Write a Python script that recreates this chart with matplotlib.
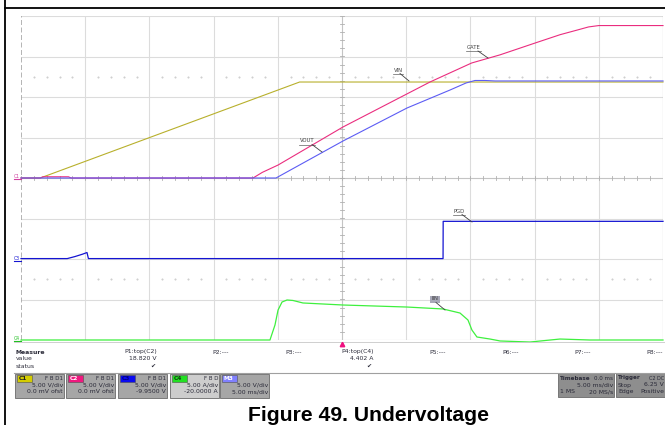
"""
Scope capture: undervoltage start-up (VIN, GATE, VOUT, PGD, IIN)
"""
import matplotlib.pyplot as plt
from matplotlib.patches import Rectangle
import numpy as np

W, H = 665, 425

# ---- traces (time in ms, trigger at 0) ----
vin_t = [-25.0, -23.5, -3.3, 25.0]
vin_v = [0.0, 0.0, 11.85, 11.85]

gate_t = [-25.0, -23.5, -23.3, -21.3, -21.1, -6.93, -6.2, -4.98, 0.08, 6.85,
          10.1, 12.3, 15.2, 17.0, 18.4, 19.2, 20.0, 25.0]
gate_v = [0.0, 0.0, 0.15, 0.15, 0.0, 0.0, 0.7, 1.6, 6.3, 11.85,
          14.2, 15.2, 16.75, 17.7, 18.3, 18.65, 18.82, 18.82]

vout_t = [-25.0, -5.14, 0.08, 5.06, 8.41, 9.66, 10.36, 11.14, 11.92, 25.0]
vout_v = [0.0, 0.0, 4.57, 8.64, 10.86, 11.73, 12.04, 12.04, 11.98, 11.98]

pgd_t = [-25.0, -21.4, -20.8, -20.2, -19.86, -19.75, 7.87, 7.88, 25.0]
pgd_v = [0.0, 0.0, 0.25, 0.55, 0.75, 0.0, 0.0, 4.6, 4.6]

iin_t = [-25.0, -5.61, -5.22, -4.98, -4.67, -4.28, -3.82, -3.04, 0.08, 5.06,
         7.87, 9.19, 9.81, 10.12, 10.51, 11.53, 12.31, 14.64, 16.98, 19.3, 25.0]
iin_a = [0.0, 0.0, 1.85, 3.70, 4.69, 4.94, 4.88, 4.57, 4.32, 4.07,
         3.83, 3.33, 2.47, 1.23, 0.37, 0.12, -0.12, -0.25, 0.12, 0.0, 0.0]

# channel setup (scale per div, offset)
c1_scale, c1_ofs = 5.0, 0.0
c2_scale, c2_ofs = 5.0, 0.0
c3_scale, c3_ofs = 5.0, -9.95
c4_scale, c4_ofs = 5.0, -20.0
m3_scale = 5.0

# bottom panel texts
p_names = ['P1:top(C2)', 'P2:---', 'P3:---', 'P4:top(C4)', 'P5:---', 'P6:---', 'P7:---', 'P8:---']
p_values = ['18.820 V', '', '', '4.402 A', '', '', '', '']
p_status = ['\u2714', '', '', '\u2714', '', '', '', '']

ch_names = ['C1', 'C2', 'C3', 'C4', 'M3']
ch_flags = ['F B D1', 'F B D1', 'F B D1', 'F B D', '']
ch_scale_txt = ['5.00 V/div', '5.00 V/div', '5.00 V/div', '5.00 A/div', '5.00 V/div']
ch_ofs_txt = ['0.0 mV ofst', '0.0 mV ofst', '-9.9500 V', '-20.0000 A', '5.00 ms/div']
ch_tag_col = ['#d4cc00', '#f0187f', '#0a0af0', '#22e022', '#8080ff']
ch_tag_txt = ['#202020', '#ffffff', '#000080', '#104010', '#ffffff']

col_c1 = '#b8b02c'
col_c2 = '#ea2d7f'
col_c3 = '#1414d2'
col_c4 = '#3ef03e'
col_m3 = '#5c5cf4'

fig = plt.figure(figsize=(W / 100, H / 100), dpi=100)

# ---- scope grid ----
gx0, gx1, gy0, gy1 = 21, 663, 16, 340
ax = fig.add_axes([gx0 / W, 1 - gy1 / H, (gx1 - gx0) / W, (gy1 - gy0) / H])
ax.set_xlim(-25, 25)
ax.set_ylim(-4, 4)
ax.axis('off')

grid_c = '#dcdcdc'
for t in range(-20, 25, 5):
    if t != 0:
        ax.axvline(t, color=grid_c, lw=0.8, zorder=1)
for yv in [-3, -2, -1, 1, 2, 3]:
    ax.axhline(yv, color=grid_c, lw=0.8, zorder=1)
ax.axhline(4, color=grid_c, lw=0.8, zorder=1)
ax.axhline(-4, color='#c8c8c8', lw=0.8, zorder=1)
ax.axvline(25, color='#a0a0a0', lw=0.8, zorder=1)
ax.axvline(-25, color='#a8a8a8', lw=1.2, ls=(0, (3, 1.5)), zorder=1)
ax.axvline(0, color='#c4c4c4', lw=0.8, zorder=1)
ax.axhline(0, color='#c4c4c4', lw=0.8, zorder=1)

# minor ticks on the centre cross
for yv in np.arange(-4, 4.01, 0.2):
    ax.plot([-0.18, 0.18], [yv, yv], color='#b0b0b0', lw=0.6, zorder=1)
for t in range(-25, 26):
    ax.plot([t, t], [-0.06, 0.06], color='#b0b0b0', lw=0.6, zorder=1)
dots = [t for t in range(-24, 25) if t % 5 != 0]
for yv in [2.5, -2.5]:
    ax.plot(dots, [yv] * len(dots), ls='none', marker='s', ms=0.5,
            color='#cfcfcf', zorder=1)

# ---- traces ----
ax.plot(vin_t, (np.array(vin_v) + c1_ofs) / c1_scale, color=col_c1, lw=0.8, clip_on=False, zorder=3)
ax.plot(gate_t, (np.array(gate_v) + c2_ofs) / c2_scale, color=col_c2, lw=0.8, clip_on=False, zorder=3)
ax.plot(pgd_t, (np.array(pgd_v) + c3_ofs) / c3_scale, color=col_c3, lw=0.9, clip_on=False, zorder=3)
ax.plot(iin_t, (np.array(iin_a) + c4_ofs) / c4_scale, color=col_c4, lw=0.9, clip_on=False, zorder=3)
ax.plot(vout_t, np.array(vout_v) / m3_scale, color=col_m3, lw=0.8, clip_on=False, zorder=4)

# ---- overlay in pixel coordinates ----
ov = fig.add_axes([0, 0, 1, 1])
ov.set_xlim(0, W)
ov.set_ylim(H, 0)
ov.axis('off')
ov.patch.set_alpha(0)

# page frame
ov.plot([5, 5], [0, H], color='black', lw=1.3)
ov.plot([5, W], [8, 8], color='black', lw=1.3)

# trace labels with leader lines
def trace_label(text, x0, x1, yc, lx, ly, boxed=False):
    if boxed:
        ov.add_patch(Rectangle((x0 - 1, yc - 3.5), x1 - x0 + 2, 7, facecolor='#a8a8b8',
                               edgecolor='none', zorder=5))
    ov.text((x0 + x1) / 2, yc, text, ha='center', va='center', fontsize=3.8,
            color='#404040', zorder=6)
    if not boxed:
        ov.plot([x0, x1], [yc + 3.5, yc + 3.5], color='#606060', lw=0.5, zorder=6)
    ov.plot([x1 - 3, lx], [yc + 3.5, ly], color='#404040', lw=0.6, zorder=6)

trace_label('GATE', 466, 481, 47.5, 488, 58)
trace_label('VIN', 393, 403, 70, 409, 81)
trace_label('VOUT', 299, 315, 141, 322, 152)
trace_label('PGD', 453, 465, 211, 472, 222)
trace_label('IIN', 431, 439, 299, 445, 310, boxed=True)

# channel markers at the left edge
for name, yv, c in [('C1', 177, '#d040a0'), ('C3', 259, col_c3), ('C4', 339, '#20c020')]:
    ov.text(14, yv - 1, name, fontsize=3.3, color=c, ha='left', va='center')
    ov.plot([14, 21], [yv + 1.5, yv + 1.5], color=c, lw=0.8)

# trigger position marker
ov.plot(342, 344, marker='^', color='#f01080', ms=3.2, zorder=6)

# ---- measure table ----
fs = 4.4
tc = '#2a2a38'
ov.plot([14, W], [342, 342], color='#c8c8c8', lw=0.6)
ov.plot([14, W], [373, 373], color='#a0a0a0', lw=0.8)
ov.text(16, 352, 'Measure', fontsize=fs, fontweight='bold', color=tc, va='center')
ov.text(16, 359, 'value', fontsize=fs, color=tc, va='center')
ov.text(16, 366, 'status', fontsize=fs, color=tc, va='center')
for i, (nm, val, st) in enumerate(zip(p_names, p_values, p_status)):
    xr = 157 + 72.3 * i
    ov.text(xr, 352, nm, fontsize=fs, color=tc, ha='right', va='center')
    if val:
        ov.text(xr, 359, val, fontsize=fs, color=tc, ha='right', va='center')
    if st:
        ov.text(xr - 2, 366.5, st, fontsize=fs, color=tc, ha='right', va='center')

# ---- channel boxes ----
box_x = [15, 66, 118, 170, 220]
for i, bx in enumerate(box_x):
    bg = '#cdcdcd' if ch_names[i] == 'C4' else '#a6a6a6'
    ov.add_patch(Rectangle((bx, 374), 49, 24, facecolor=bg, edgecolor='#6a6a6a', lw=0.6))
    ov.add_patch(Rectangle((bx + 2, 375), 15, 6.5, facecolor=ch_tag_col[i],
                           edgecolor='#505050', lw=0.4))
    ov.text(bx + 4, 378.3, ch_names[i], fontsize=4.2, fontweight='bold',
            color=ch_tag_txt[i], va='center')
    ov.text(bx + 48, 378.3, ch_flags[i], fontsize=4.0, color=tc, ha='right', va='center')
    ov.text(bx + 48, 385, ch_scale_txt[i], fontsize=fs, color=tc, ha='right', va='center')
    ov.text(bx + 48, 391.5, ch_ofs_txt[i], fontsize=fs, color=tc, ha='right', va='center')

# ---- timebase / trigger boxes ----
ov.add_patch(Rectangle((558, 373), 56, 24, facecolor='#8e8e8e', edgecolor='#6a6a6a', lw=0.6))
ov.add_patch(Rectangle((616, 373), 50, 24, facecolor='#8e8e8e', edgecolor='#6a6a6a', lw=0.6))
ov.text(559.5, 378, 'Timebase', fontsize=4.1, fontweight='bold', color=tc, va='center')
ov.text(613, 378, '0.0 ms', fontsize=4.1, color=tc, ha='right', va='center')
ov.text(613, 385, '5.00 ms/div', fontsize=fs, color=tc, ha='right', va='center')
ov.text(560, 391.5, '1 MS', fontsize=fs, color=tc, va='center')
ov.text(613, 391.5, '20 MS/s', fontsize=fs, color=tc, ha='right', va='center')
ov.text(617.5, 378, 'Trigger', fontsize=4.1, fontweight='bold', color=tc, va='center')
ov.text(664, 378, 'C2 DC', fontsize=3.5, color=tc, ha='right', va='center')
ov.text(618, 385, 'Stop', fontsize=fs, color=tc, va='center')
ov.text(664, 385, '6.25 V', fontsize=fs, color=tc, ha='right', va='center')
ov.text(618, 391.5, 'Edge', fontsize=fs, color=tc, va='center')
ov.text(664, 391.5, 'Positive', fontsize=fs, color=tc, ha='right', va='center')

# ---- caption ----
ov.text(368, 421, 'Figure 49. Undervoltage', fontsize=15.2, fontweight='bold',
        family='Liberation Sans', color='black', ha='center', va='baseline')

fig.savefig('out.png', dpi=100)
